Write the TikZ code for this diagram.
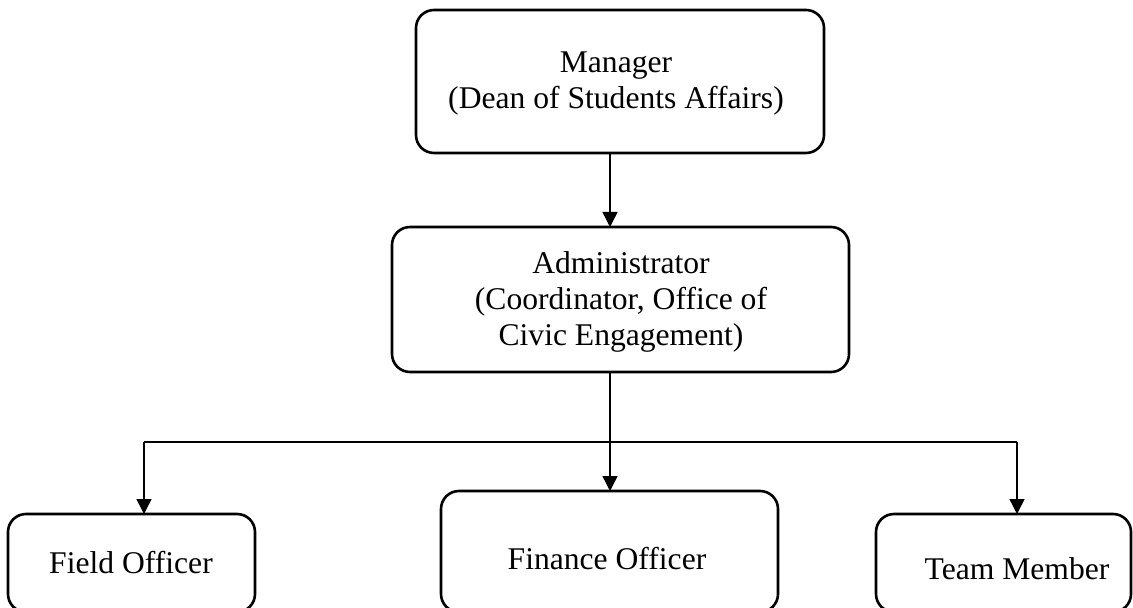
\documentclass[tikz,border=0pt]{standalone}
\usepackage{fontspec}
\setmainfont{Liberation Serif}
\usetikzlibrary{arrows.meta}
\begin{document}
\begin{tikzpicture}[x=0.5pt,y=-0.5pt,
  box/.style={draw, line width=1.3pt, rounded corners=9pt, inner sep=0pt, outer sep=0pt},
  lbl/.style={font=\fontsize{15.8pt}{18pt}\selectfont, align=center, inner sep=0pt},
  conn/.style={line width=0.75pt, -{Triangle[length=7.5pt,width=7.5pt]}},
  plain/.style={line width=0.75pt}]
\clip (0,0) rectangle (1133,608);
% boxes
\node[box, minimum width=204pt, minimum height=71.5pt] (mgr) at (620,81.5) {};
\node[box, minimum width=228.5pt, minimum height=72.5pt] (adm) at (620.5,299.5) {};
\node[box, minimum width=123.5pt, minimum height=49pt] (field) at (131.5,563) {};
\node[box, minimum width=168.5pt, minimum height=60.5pt] (fin) at (609.5,551.5) {};
\node[box, minimum width=127.5pt, minimum height=49pt] (team) at (1003.5,563) {};
% texts
\node[lbl] (mgrtxt) at (616,84) {Manager\\(Dean of Students Affairs)};
\node[lbl] (admtxt) at (621,302) {Administrator\\(Coordinator, Office of\\Civic Engagement)};
\node[lbl, anchor=base] (fieldtxt) at (131,573) {Field Officer};
\node[lbl, anchor=base] (fintxt) at (607,569) {Finance Officer};
\node[lbl, anchor=base] (teamtxt) at (1017,579) {Team Member};
% connectors
\coordinate (split) at (610,442);
\coordinate (lft) at (144,442);
\coordinate (rgt) at (1017,442);
\draw[conn] (mgr.south -| split) -- (adm.north -| split);
\draw[conn] (adm.south -| split) -- (fin.north -| split);
\draw[plain] (lft) -- (rgt);
\draw[conn] (lft) -- (field.north -| lft);
\draw[conn] (rgt) -- (team.north -| rgt);
\end{tikzpicture}
\end{document}
